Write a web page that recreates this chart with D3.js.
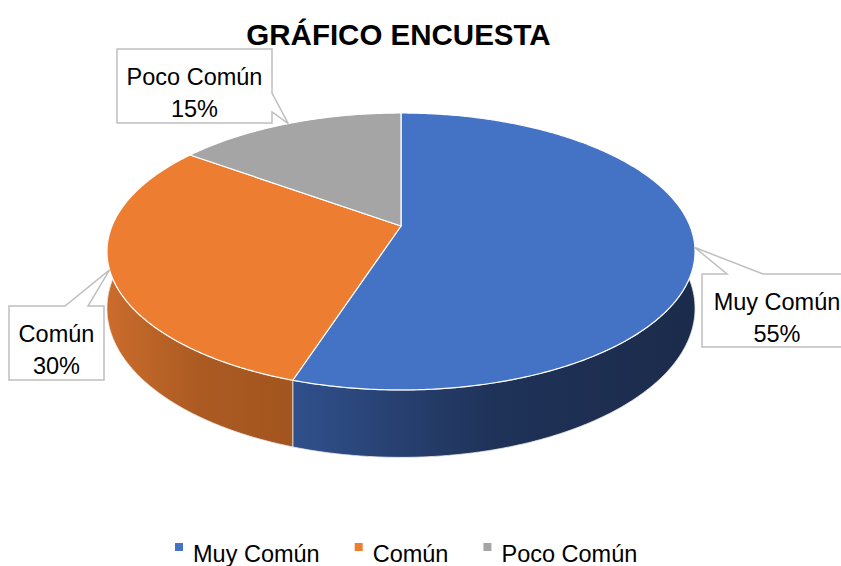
<!DOCTYPE html>
<html>
<head>
<meta charset="utf-8">
<script src="https://cdn.jsdelivr.net/npm/d3@7"></script>
<style>
  body { margin: 0; background: #fff; }
  svg { display: block; }
</style>
</head>
<body>
<script>
// data
const categories = ["Muy Común", "Común", "Poco Común"]
const values = [55, 30, 15]
const chartTitle = "GRÁFICO ENCUESTA"

const topColors = ["#4472C4", "#ED7D31", "#A5A5A5"]
const sideColors = [["#30508c", "#1b2b4b"], ["#cb6c2c", "#a3551f"], ["#8a8a8a", "#6e6e6e"]]

// callout boxes (layout only)
const calloutLayout = [
  {x: 702, y: 274, w: 150, h: 73, side: "top", b0: 727, b1: 763},
  {x: 9, y: 306, w: 95, h: 74, side: "top", b0: 65, b1: 88},
  {x: 117, y: 49, w: 155, h: 74, side: "right", b0: 93, b1: 112},
]

function drawPie3D() {
  const dataset = categories.map((c, i) => ({category: c, value: values[i]}))

  const dimensions = {width: 841, height: 566}
  const pieGeom = {cx: 401, cy: 226, rx: 289, ry: 133.8, p: 0.184, depth: 55}

  const wrapper = d3.select("body")
    .append("svg")
      .attr("width", dimensions.width)
      .attr("height", dimensions.height)
      .style("font-family", "'Liberation Sans', Arial, sans-serif")

  const defs = wrapper.append("defs")

  const colorScale = d3.scaleOrdinal().domain(categories).range(topColors)
  const sideScale = d3.scaleOrdinal().domain(categories).range(sideColors)

  // perspective projection of a point on the pie rim
  const project = (a, drop = 0) => {
    const d = -Math.cos(a)
    const s = 1 / (1 - pieGeom.p * d)
    return [
      pieGeom.cx + pieGeom.rx * Math.sin(a) * s,
      pieGeom.cy + pieGeom.ry * d * s + drop * s,
    ]
  }
  const arcPoints = (a0, a1, drop = 0) => {
    const n = Math.max(2, Math.ceil((a1 - a0) / 0.01))
    return d3.range(n + 1).map(i => project(a0 + (a1 - a0) * i / n, drop))
  }

  const pie = d3.pie().sort(null).value(d => d.value)
  const arcs = pie(dataset)

  const bounds = wrapper.append("g")

  // sides (front half only)
  const sideMin = Math.PI / 2 - 0.05
  const sideMax = Math.PI * 1.5 + 0.05
  arcs.forEach((arc, i) => {
    const a0 = Math.max(arc.startAngle, sideMin)
    const a1 = Math.min(arc.endAngle, sideMax)
    if (a1 <= a0) return
    const topPts = arcPoints(a0, a1)
    const botPts = arcPoints(a0, a1, pieGeom.depth).reverse()
    const pts = topPts.concat(botPts)
    const xExt = d3.extent(pts, d => d[0])
    const gradId = "side-grad-" + i
    const cols = sideScale(arc.data.category)
    const grad = defs.append("linearGradient")
      .attr("id", gradId)
      .attr("gradientUnits", "userSpaceOnUse")
      .attr("x1", xExt[0]).attr("x2", xExt[1])
      .attr("y1", 0).attr("y2", 0)
    grad.append("stop").attr("offset", "0%").attr("stop-color", cols[0])
    grad.append("stop").attr("offset", "50%").attr("stop-color", d3.interpolateRgb(cols[0], cols[1])(0.8))
    grad.append("stop").attr("offset", "100%").attr("stop-color", cols[1])
    bounds.append("path")
      .attr("d", d3.line()(pts) + "Z")
      .attr("fill", `url(#${gradId})`)
      .attr("stroke", "#e8e8e8")
      .attr("stroke-width", 0.8)
  })

  // top faces
  arcs.forEach(arc => {
    const pts = [[pieGeom.cx, pieGeom.cy]].concat(arcPoints(arc.startAngle, arc.endAngle))
    bounds.append("path")
      .attr("d", d3.line()(pts) + "Z")
      .attr("fill", colorScale(arc.data.category))
      .attr("stroke", "#ffffff")
      .attr("stroke-width", 1.2)
      .attr("stroke-linejoin", "round")
  })

  // callout labels
  const total = d3.sum(values)
  arcs.forEach((arc, i) => {
    const box = calloutLayout[i]
    const tip = project((arc.startAngle + arc.endAngle) / 2)
    let pts
    if (box.side === "top") {
      pts = [[box.x, box.y], [box.b0, box.y], tip, [box.b1, box.y],
        [box.x + box.w, box.y], [box.x + box.w, box.y + box.h], [box.x, box.y + box.h]]
    } else {
      pts = [[box.x, box.y], [box.x + box.w, box.y], [box.x + box.w, box.b0], tip,
        [box.x + box.w, box.b1], [box.x + box.w, box.y + box.h], [box.x, box.y + box.h]]
    }
    wrapper.append("path")
      .attr("d", d3.line()(pts) + "Z")
      .attr("fill", "#fff")
      .attr("stroke", "#bfbfbf")
      .attr("stroke-width", 1.5)
    const label = wrapper.append("text")
      .attr("text-anchor", "middle")
      .attr("fill", "#000")
      .style("font-size", "23.5px")
    label.append("tspan")
      .attr("x", box.x + box.w / 2)
      .attr("y", box.y + 36)
      .text(arc.data.category)
    label.append("tspan")
      .attr("x", box.x + box.w / 2)
      .attr("y", box.y + 68)
      .text(d3.format(".0%")(arc.data.value / total))
  })

  // title
  wrapper.append("text")
    .attr("x", 398.5)
    .attr("y", 45)
    .attr("text-anchor", "middle")
    .style("font-size", "29.5px")
    .style("font-weight", "bold")
    .text(chartTitle)

  // legend
  const legend = wrapper.append("g")
  let lx = 175
  categories.forEach(c => {
    legend.append("rect")
      .attr("x", lx).attr("y", 543)
      .attr("width", 8).attr("height", 8)
      .attr("fill", colorScale(c))
    const t = legend.append("text")
      .attr("x", lx + 18)
      .attr("y", 562)
      .style("font-size", "23.5px")
      .text(c)
    lx += 18 + t.node().getComputedTextLength() + 35
  })
}
drawPie3D()
</script>
</body>
</html>
